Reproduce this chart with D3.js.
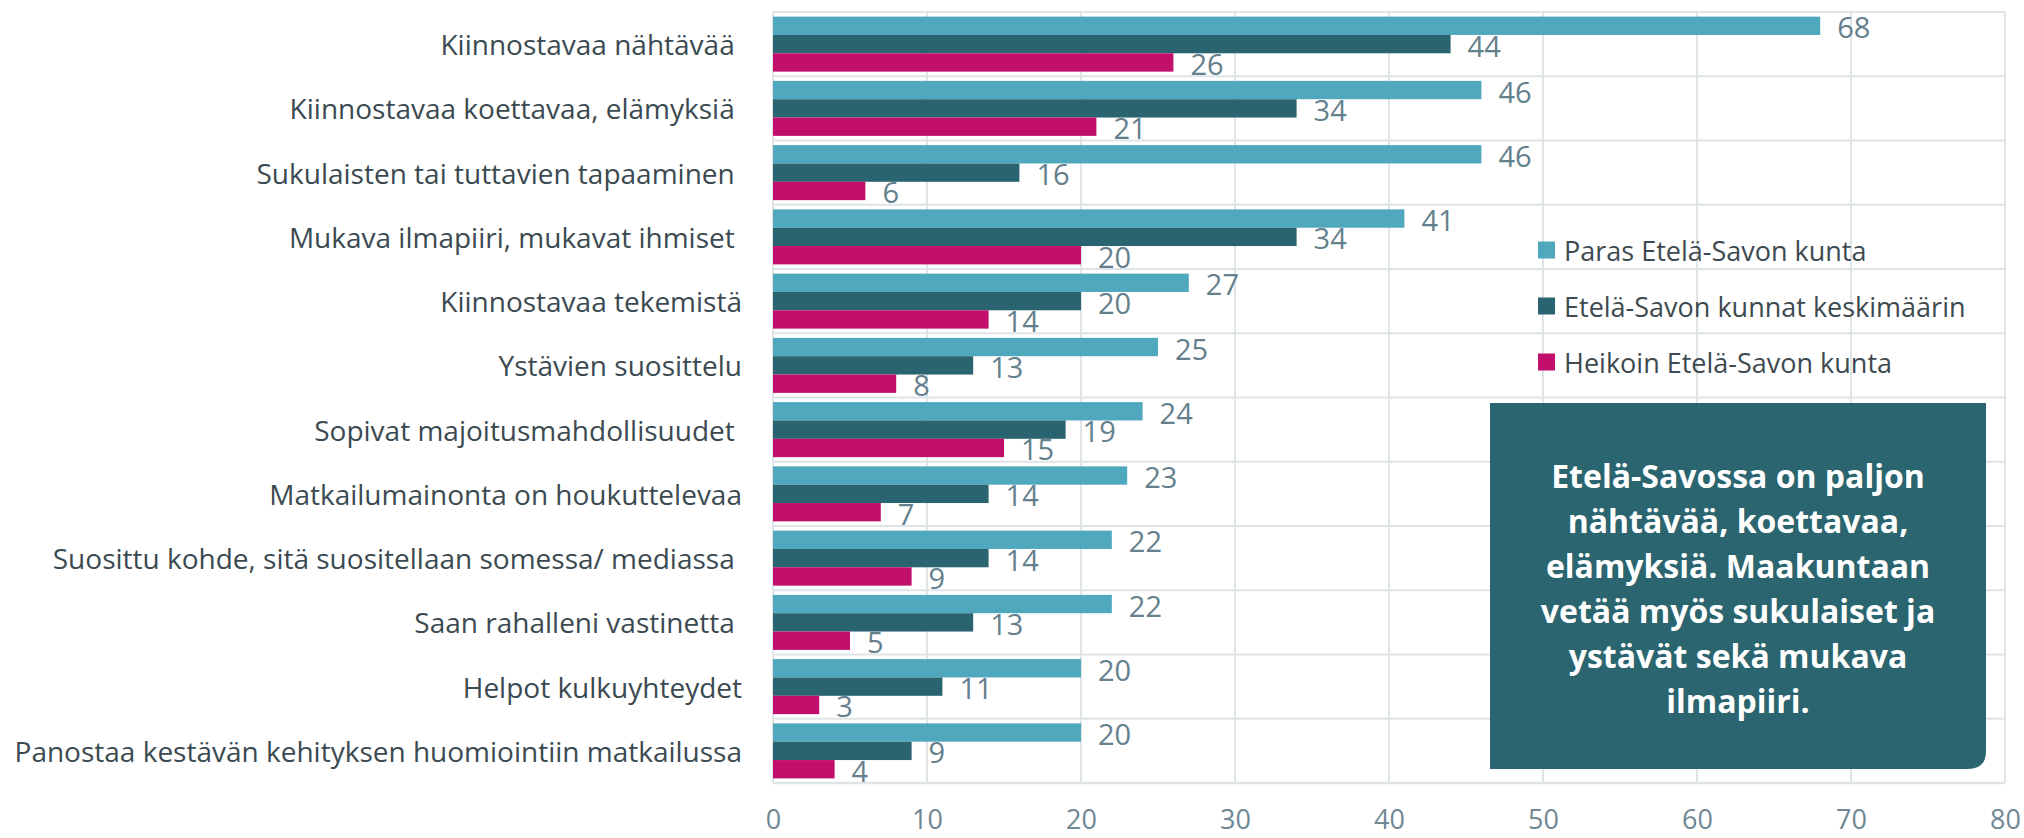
<!DOCTYPE html>
<html>
<head>
<meta charset="utf-8">
<script src="https://cdn.jsdelivr.net/npm/d3@7"></script>
<style>
  body { margin: 0; background: #fff; }
  text { font-family: "Open Sans", sans-serif; }
</style>
</head>
<body>
<svg id="chart"></svg>
<script>
// kategoriat (osassa on perässä välilyönti kuten alkuperäisessä)
var categories = [
  "Kiinnostavaa nähtävää ",
  "Kiinnostavaa koettavaa, elämyksiä ",
  "Sukulaisten tai tuttavien tapaaminen ",
  "Mukava ilmapiiri, mukavat ihmiset ",
  "Kiinnostavaa tekemistä",
  "Ystävien suosittelu",
  "Sopivat majoitusmahdollisuudet ",
  "Matkailumainonta on houkuttelevaa",
  "Suosittu kohde, sitä suositellaan somessa/ mediassa ",
  "Saan rahalleni vastinetta ",
  "Helpot kulkuyhteydet",
  "Panostaa kestävän kehityksen huomiointiin matkailussa"
];
var seriesNames = ["Paras Etelä-Savon kunta", "Etelä-Savon kunnat keskimäärin", "Heikoin Etelä-Savon kunta"];
var paras =     [68, 46, 46, 41, 27, 25, 24, 23, 22, 22, 20, 20];
var keskiarvo = [44, 34, 16, 34, 20, 13, 19, 14, 14, 13, 11, 9];
var heikoin =   [26, 21, 6, 20, 14, 8, 15, 7, 9, 5, 3, 4];
var xTicks = [0, 10, 20, 30, 40, 50, 60, 70, 80];
var boxLines = [
  "Etelä-Savossa on paljon",
  "nähtävää, koettavaa,",
  "elämyksiä. Maakuntaan",
  "vetää myös sukulaiset ja",
  "ystävät sekä mukava",
  "ilmapiiri."
];

var colors = ["#4fa8be", "#2a6470", "#c20f6c"],
	w = 2024,
	h = 838,
	plotLeft = 773,
	plotRight = 2005,
	plotTop = 12,
	plotBottom = 783,
	grid = "#dfe4e7";

var svg = d3.select("#chart").attr("width", w).attr("height", h);

var x = d3.scaleLinear().domain([0, 80]).range([plotLeft, plotRight]);
var y = d3.scaleBand().domain(d3.range(categories.length)).range([plotTop, plotBottom])
	.paddingInner(0.144).paddingOuter(0.072);
var ySub = d3.scaleBand().domain([0, 1, 2]).range([0, y.bandwidth()]);

// ruudukko
var step = y.step();
svg.append("g").selectAll("line")
	.data(d3.range(categories.length + 1))
	.enter().append("line")
	.attr("x1", plotLeft).attr("x2", plotRight)
	.attr("y1", function(d){ return plotTop + d * step; })
	.attr("y2", function(d){ return plotTop + d * step; })
	.attr("stroke", grid).attr("stroke-width", function(d){ return d == categories.length ? 2.5 : 2; });

svg.append("g").selectAll("line")
	.data(xTicks)
	.enter().append("line")
	.attr("x1", function(d){ return x(d); }).attr("x2", function(d){ return x(d); })
	.attr("y1", plotTop).attr("y2", plotBottom)
	.attr("stroke", grid).attr("stroke-width", 2);

// x-akseli
var xAxis = svg.append("g")
	.attr("transform", "translate(0," + plotBottom + ")")
	.call(d3.axisBottom(x).tickValues(xTicks).tickSize(0).tickPadding(27));
xAxis.select(".domain").remove();
xAxis.selectAll("text")
	.attr("fill", "#6f8893")
	.style("font-size", "27px")
	.style("font-family", "Open Sans, sans-serif");

// palkit
var series = [paras, keskiarvo, heikoin];
series.forEach(function(vals, s){
	var g = svg.append("g");
	g.selectAll("rect")
		.data(vals)
		.enter().append("rect")
		.attr("x", x(0))
		.attr("y", function(d, i){ return y(i) + ySub(s); })
		.attr("width", function(d){ return x(d) - x(0); })
		.attr("height", ySub.bandwidth())
		.attr("fill", colors[s]);
	g.selectAll("text")
		.data(vals)
		.enter().append("text")
		.attr("x", function(d){ return x(d) + 17; })
		.attr("y", function(d, i){ return y(i) + ySub(s) + ySub.bandwidth() / 2 + 1; })
		.attr("dominant-baseline", "central")
		.attr("fill", "#64808c")
		.style("font-size", "29px")
		.text(function(d){ return d; });
});

// kategorioiden nimet
svg.append("g").selectAll("text")
	.data(categories)
	.enter().append("text")
	.attr("x", 742)
	.attr("y", function(d, i){ return y(i) + y.bandwidth() / 2; })
	.attr("text-anchor", "end")
	.attr("dominant-baseline", "central")
	.attr("fill", "#3b4a51")
	.style("font-size", "28px")
	.style("white-space", "pre")
	.text(function(d){ return d; });

// selite
var legend = svg.append("g").selectAll("g")
	.data(seriesNames)
	.enter().append("g")
	.attr("transform", function(d, i){ return "translate(1538," + (250 + i * 56) + ")"; });
legend.append("rect")
	.attr("x", 0).attr("y", -8.5).attr("width", 17).attr("height", 17)
	.attr("fill", function(d, i){ return colors[i]; });
legend.append("text")
	.attr("x", 26).attr("y", 0)
	.attr("dominant-baseline", "central")
	.attr("fill", "#3d4a50")
	.style("font-size", "27px")
	.text(function(d){ return d; });

// tekstilaatikko
var bx = 1490, by = 403, bw = 496, bh = 366, r = 18;
svg.append("path")
	.attr("d", "M" + bx + "," + by + "H" + (bx + bw) + "V" + (by + bh - r) +
		"Q" + (bx + bw) + "," + (by + bh) + " " + (bx + bw - r) + "," + (by + bh) +
		"H" + bx + "Z")
	.attr("fill", "#2b6570");
svg.append("g").selectAll("text")
	.data(boxLines)
	.enter().append("text")
	.attr("x", bx + bw / 2)
	.attr("y", function(d, i){ return 475 + i * 45; })
	.attr("text-anchor", "middle")
	.attr("dominant-baseline", "central")
	.attr("fill", "#ffffff")
	.style("font-size", "32px")
	.style("font-weight", "bold")
	.text(function(d){ return d; });
</script>
</body>
</html>
